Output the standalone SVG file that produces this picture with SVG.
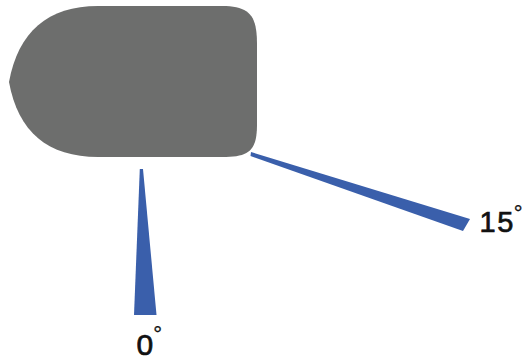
<svg xmlns="http://www.w3.org/2000/svg" width="529" height="361" viewBox="0 0 529 361">
<style>
.wedge{fill:#3a5fab}
.lbl{font-family:"Liberation Sans",Arial,Helvetica,sans-serif;fill:#111;stroke:#111;stroke-width:0.7}
.deg{font-size:22px;stroke-width:0.3}
</style>
<rect width="529" height="361" fill="#ffffff"/>
<g id="body">
<path d="M9,82 C18,32 48,6 98,6 L222,6 C250,6 257,16 257,44 L257,124 C257,150 250,157 222,157 L98,157 C48,157 18,132 9,82 Z" fill="#6d6e6d"/>
</g>
<g id="connectors">
<polygon class="wedge" points="139.8,169 143,169 156.5,315 134,315"/>
<polygon class="wedge" points="251,152 250.5,156 463,231 470,219"/>
</g>
<g id="label0">
<text class="lbl" x="136.5" y="355" font-size="30">0<tspan class="deg" dx="0" dy="-13">°</tspan></text>
</g>
<g id="label15">
<text class="lbl" x="479.5" y="232" font-size="29" letter-spacing="1.5">15<tspan class="deg" dx="-1" dy="-11" letter-spacing="0">°</tspan></text>
</g>
</svg>
